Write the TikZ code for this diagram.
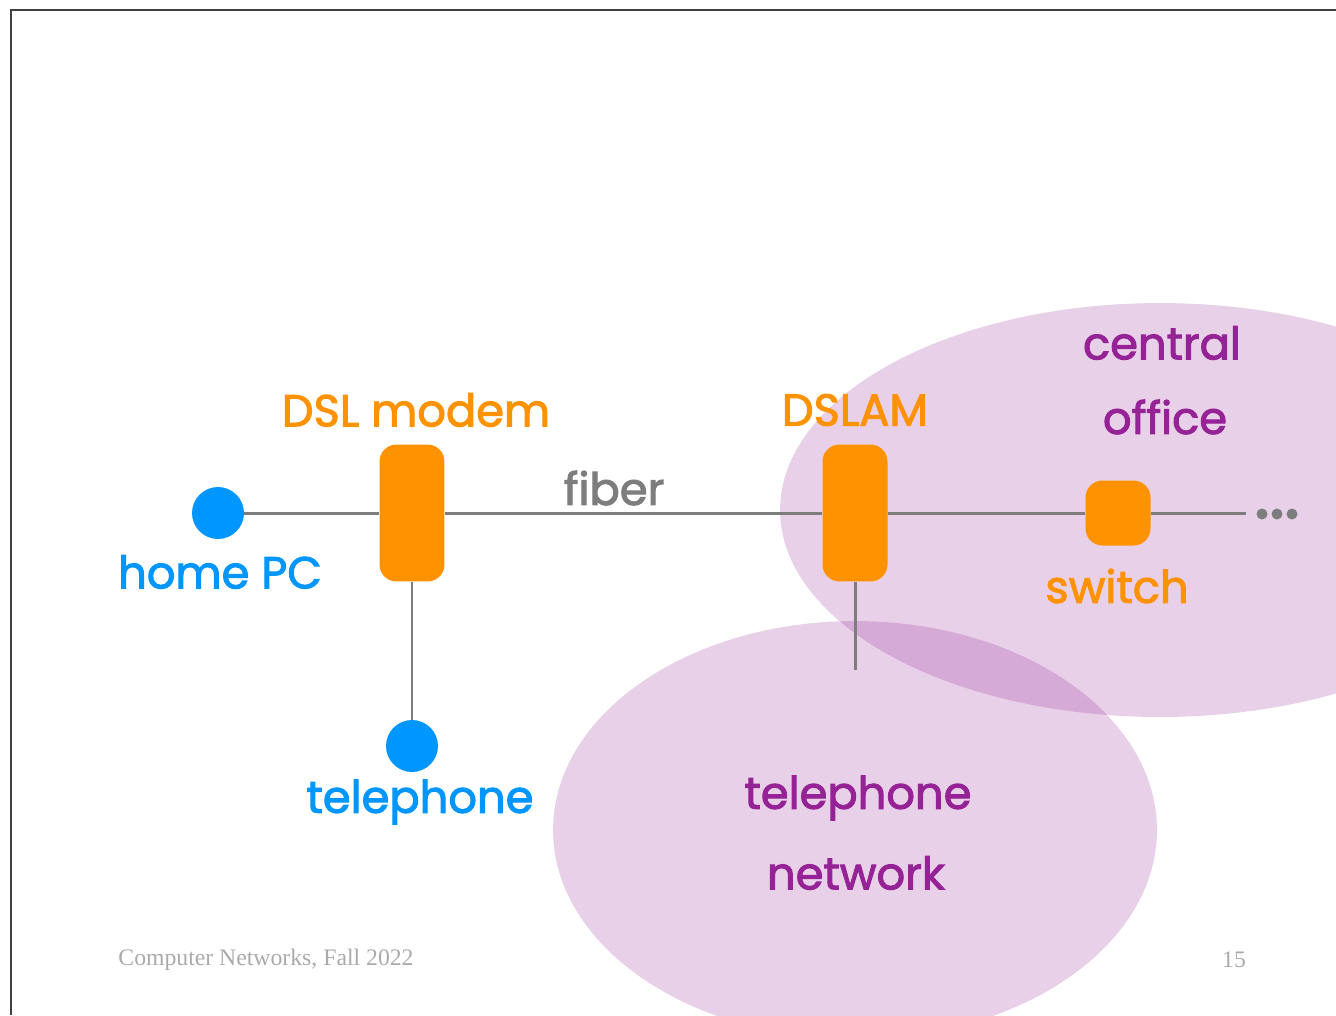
\documentclass[tikz,border=0pt]{standalone}
\usepackage{fontspec}
\setmainfont{Poppins}[BoldFont={*},BoldFeatures={FakeBold=2.2}]
\newfontfamily\footfont{Liberation Serif}
\definecolor{dslorange}{RGB}{255,146,0}
\definecolor{pcblue}{RGB}{0,150,255}
\definecolor{officepurple}{RGB}{150,35,150}
\definecolor{blobpurple}{RGB}{140,20,140}
\definecolor{wiregray}{RGB}{125,125,125}
\definecolor{footgray}{RGB}{170,170,170}
\begin{document}
\begin{tikzpicture}[x=0.02cm,y=-0.02cm]
  \tikzstyle{every node}+=[inner sep=0pt]
  \tikzstyle{box}=[fill=dslorange,rounded corners=0.34cm,minimum width=1.3cm]
  \tikzstyle{enddot}=[circle,fill=pcblue,minimum size=1.04cm]
  \tikzstyle{wire}=[wiregray,line width=1.7pt]
  \tikzstyle{lbl}=[font=\fontsize{25.5}{30}\selectfont\bfseries]
  \useasboundingbox (0,0) rectangle (1336,1015);
  % areas
  \fill [blobpurple,opacity=0.2] (1160,510) ellipse [x radius=7.6cm,y radius=4.14cm];
  \fill [blobpurple,opacity=0.2] (855,830) ellipse [x radius=6.04cm,y radius=4.18cm];
  % slide frame
  \draw [black!75,line width=0.9pt] (11,1015) -- (11,10) -- (1336,10);
  % devices
  \node [enddot] (pc) at (218,513) {};
  \node [enddot] (phone) at (412,746) {};
  \node [box,minimum height=2.74cm] (modem) at (412,513) {};
  \node [box,minimum height=2.74cm] (dslam) at (855,513) {};
  \node [box,minimum height=1.3cm] (switch) at (1118,513) {};
  \coordinate (phonenet) at (855,670);
  \coordinate (more) at (1246,513);
  \node [circle,fill=wiregray,minimum size=0.22cm] (dota) at (1262,514) {};
  \node [circle,fill=wiregray,minimum size=0.22cm] (dotb) at (1277,514) {};
  \node [circle,fill=wiregray,minimum size=0.22cm] (dotc) at (1292,514) {};
  % wires
  \draw [wire] (pc) -- (modem);
  \draw [wire] (modem) -- (phone);
  \draw [wire] (modem) -- (dslam);
  \draw [wire] (dslam) -- (phonenet);
  \draw [wire] (dslam) -- (switch);
  \draw [wire] (switch) -- (more);
  % labels
  \node [lbl,text=pcblue] (pclbl) at (220,572) {home PC};
  \node [lbl,text=pcblue] (phonelbl) at (420,802) {telephone};
  \node [lbl,text=dslorange] (modemlbl) at (416,410) {DSL modem};
  \node [lbl,text=dslorange] (dslamlbl) at (855,410) {DSLAM};
  \node [lbl,text=dslorange] (switchlbl) at (1117,586) {switch};
  \node [lbl,text=wiregray] (fiberlbl) at (614,488) {fiber};
  \node [lbl,text=officepurple] (colbla) at (1162,343) {central};
  \node [lbl,text=officepurple] (colblb) at (1165,417) {office};
  \node [lbl,text=officepurple] (netlbla) at (858,798) {telephone};
  \node [lbl,text=officepurple] (netlblb) at (856,873) {network};
  % footer
  \node [font=\footfont\fontsize{13.5}{16}\selectfont,text=footgray] (course) at (266,960) {Computer Networks, Fall 2022};
  \node [font=\footfont\fontsize{13.5}{16}\selectfont,text=footgray] (pageno) at (1234,960) {15};
\end{tikzpicture}
\end{document}
